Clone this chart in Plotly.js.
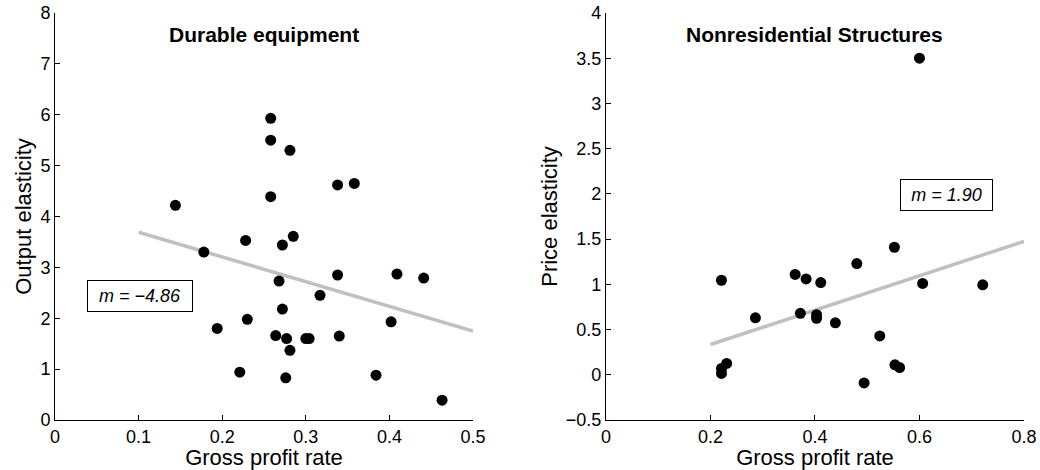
<!DOCTYPE html>
<html>
<head>
<meta charset="utf-8">
<script src="https://cdn.plot.ly/plotly-3.0.1.min.js"></script>
<style>html,body{margin:0;padding:0;background:#fff;}#chart{width:1040px;height:470px;}</style>
</head>
<body>
<div id="chart"></div>
<script>
// Durable equipment
const durX = [0.258, 0.258, 0.281, 0.338, 0.358, 0.258, 0.144, 0.228, 0.285, 0.272, 0.178, 0.338, 0.409, 0.441, 0.268, 0.317, 0.272, 0.230, 0.402, 0.194, 0.264, 0.277, 0.300, 0.304, 0.340, 0.281, 0.221, 0.276, 0.384, 0.463];
const durY = [5.93, 5.50, 5.30, 4.62, 4.65, 4.39, 4.22, 3.53, 3.61, 3.44, 3.30, 2.85, 2.87, 2.79, 2.73, 2.45, 2.18, 1.98, 1.93, 1.80, 1.66, 1.60, 1.60, 1.60, 1.65, 1.37, 0.94, 0.83, 0.88, 0.39];
const durFitX = [0.1, 0.5];
const durFitY = [3.69, 1.75];
const durSlope = "m = \u22124.86";

// Nonresidential structures
const nrsX = [0.600, 0.552, 0.480, 0.362, 0.383, 0.411, 0.221, 0.606, 0.721, 0.286, 0.372, 0.403, 0.403, 0.439, 0.524, 0.553, 0.562, 0.494, 0.231, 0.221, 0.221];
const nrsY = [3.50, 1.41, 1.23, 1.11, 1.06, 1.02, 1.045, 1.01, 0.995, 0.63, 0.68, 0.665, 0.625, 0.575, 0.43, 0.11, 0.08, -0.09, 0.125, 0.07, 0.015];
const nrsFitX = [0.2, 0.8];
const nrsFitY = [0.335, 1.475];
const nrsSlope = "m = 1.90";

const leftXTicks = [0, 0.1, 0.2, 0.3, 0.4, 0.5];
const leftXLabels = ["0", "0.1", "0.2", "0.3", "0.4", "0.5"];
const leftYTicks = [0, 1, 2, 3, 4, 5, 6, 7, 8];
const leftYLabels = ["0", "1", "2", "3", "4", "5", "6", "7", "8"];
const rightXTicks = [0, 0.2, 0.4, 0.6, 0.8];
const rightXLabels = ["0", "0.2", "0.4", "0.6", "0.8"];
const rightYTicks = [-0.5, 0, 0.5, 1, 1.5, 2, 2.5, 3, 3.5, 4];
const rightYLabels = ["\u22120.5", "0", "0.5", "1", "1.5", "2", "2.5", "3", "3.5", "4"];

const FONT = "Liberation Sans, Arial, Helvetica, sans-serif";
const lineStyle = {color: "#c0c0c0", width: 3.5};
const markerStyle = {color: "#000", size: 11};
const axTitleFont = {family: FONT, size: 22, color: "#000"};

const traces = [
  {x: durFitX, y: durFitY, mode: "lines", line: lineStyle, xaxis: "x", yaxis: "y", hoverinfo: "skip"},
  {x: durX, y: durY, mode: "markers", marker: markerStyle, xaxis: "x", yaxis: "y"},
  {x: nrsFitX, y: nrsFitY, mode: "lines", line: lineStyle, xaxis: "x2", yaxis: "y2", hoverinfo: "skip"},
  {x: nrsX, y: nrsY, mode: "markers", marker: markerStyle, xaxis: "x2", yaxis: "y2"}
];

function axisBase(extra) {
  return Object.assign({
    showgrid: false, zeroline: false, showline: true, linecolor: "#000", linewidth: 1,
    ticks: "inside", ticklen: 5, tickcolor: "#000", tickwidth: 1, mirror: false,
    tickfont: {family: FONT, size: 18, color: "#000"}, tickmode: "array", automargin: false,
    fixedrange: true
  }, extra);
}

const layout = {
  width: 1040, height: 470,
  margin: {l: 55, r: 16, t: 13, b: 50},
  paper_bgcolor: "#fff", plot_bgcolor: "#fff",
  showlegend: false,
  xaxis: axisBase({domain: [0, 0.4314], range: [0, 0.5], tickvals: leftXTicks, ticktext: leftXLabels,
    title: {text: "Gross profit rate", font: axTitleFont, standoff: 2}}),
  yaxis: axisBase({domain: [0, 1], range: [0, 8], tickvals: leftYTicks, ticktext: leftYLabels,
    title: {text: "Output elasticity", font: axTitleFont, standoff: 2}}),
  xaxis2: axisBase({domain: [0.5686, 1], range: [0, 0.8], tickvals: rightXTicks, ticktext: rightXLabels, anchor: "y2",
    title: {text: "Gross profit rate", font: axTitleFont, standoff: 2}}),
  yaxis2: axisBase({domain: [0, 1], range: [-0.5, 4], tickvals: rightYTicks, ticktext: rightYLabels, anchor: "x2",
    title: {text: "Price elasticity", font: axTitleFont, standoff: 2}}),
  annotations: [
    {text: "<b>Durable equipment</b>", xref: "x domain", yref: "paper", x: 0.5, y: 0.946, xanchor: "center", yanchor: "middle",
     showarrow: false, font: {family: FONT, size: 21, color: "#000"}},
    {text: "<b>Nonresidential Structures</b>", xref: "x2 domain", yref: "paper", x: 0.5, y: 0.946, xanchor: "center", yanchor: "middle",
     showarrow: false, font: {family: FONT, size: 21, color: "#000"}},
    {text: "<i>" + durSlope + "</i>", xref: "x", yref: "y", x: 0.102, y: 2.44, xanchor: "center", yanchor: "middle",
     showarrow: false, font: {family: FONT, size: 18, color: "#000"}, bordercolor: "#000", borderwidth: 1, borderpad: 5, bgcolor: "#fff", width: 94},
    {text: "<i>" + nrsSlope + "</i>", xref: "x2", yref: "y2", x: 0.651, y: 1.99, xanchor: "center", yanchor: "middle",
     showarrow: false, font: {family: FONT, size: 18, color: "#000"}, bordercolor: "#000", borderwidth: 1, borderpad: 5, bgcolor: "#fff", width: 81}
  ]
};

Plotly.newPlot("chart", traces, layout, {displayModeBar: false, staticPlot: true});
</script>
</body>
</html>
